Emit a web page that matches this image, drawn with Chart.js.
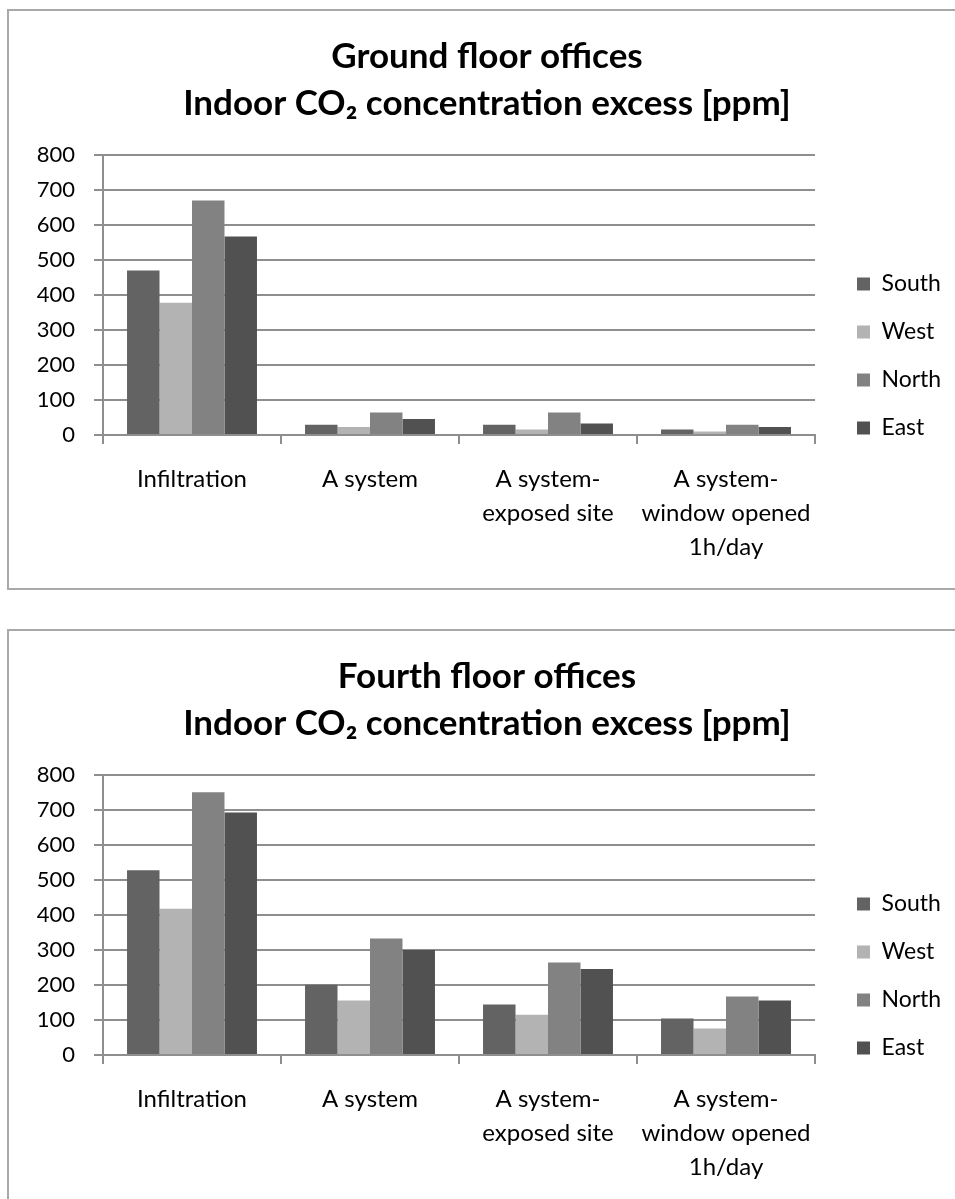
<!DOCTYPE html>
<html>
<head>
<meta charset="utf-8">
<script src="https://cdn.jsdelivr.net/npm/chart.js@4.4.1/dist/chart.umd.min.js"></script>
<style>
  html, body { margin: 0; padding: 0; background: #fff; overflow: hidden; width: 955px; height: 1199px; }
  .box { position: absolute; left: 7px; width: 960px; height: 577px; border: 2px solid #a9a9a9; box-sizing: content-box; }
  #box1 { top: 9px; }
  #box2 { top: 629px; }
  canvas { position: absolute; left: 0; top: 0; }
</style>
</head>
<body>
<div class="box" id="box1"><canvas id="c1" width="946" height="576"></canvas></div>
<div class="box" id="box2"><canvas id="c2" width="946" height="576"></canvas></div>
<script>
// ---- data ----
const categories = [
  "Infiltration",
  "A system",
  ["A system-", "exposed site"],
  ["A system-", "window opened", "1h/day"]
];
const seriesNames = ["South", "West", "North", "East"];
const seriesColors = ["#636363", "#b3b3b3", "#828282", "#515151"];

const groundSouth = [470, 29, 29, 16];
const groundWest  = [378, 23, 16, 10];
const groundNorth = [670, 64, 64, 29];
const groundEast  = [567, 46, 33, 23];

const fourthSouth = [528, 201, 144, 104];
const fourthWest  = [418, 156, 115, 76];
const fourthNorth = [751, 333, 264, 167];
const fourthEast  = [693, 300, 246, 156];

const yTicksMin = 0, yTicksMax = 800, yTicksStep = 100;

const title1 = ["Ground floor offices", "Indoor CO\u2082 concentration excess [ppm]"];
const title2 = ["Fourth floor offices", "Indoor CO\u2082 concentration excess [ppm]"];

// ---- layout ----
const FONT = "Lato, 'Open Sans', 'DejaVu Sans', sans-serif";
const W = 946, H = 576;
const areaLeft = 94, areaRight = 806, areaTop = 144, areaBottom = 424;
const legendFont = 23, legendPad = 25, legendBoxW = 13, legendBoxH = 13;
const legendBoxX = 848;

// measure legend text width to place the legend
const mctx = document.createElement('canvas').getContext('2d');
mctx.font = "normal " + legendFont + "px " + FONT;
const maxText = Math.max(...seriesNames.map(s => mctx.measureText(s).width));
const legendW = legendPad + legendBoxW + legendFont / 2 + maxText + 10;
const legendLeft = legendBoxX - legendPad;
const padR = W - legendLeft - legendW;
const padL = 10 + padR;
const gapW = legendLeft - areaRight;

const gridColor = "#8e8e8e";

function makeChart(id, titleLines, vals) {
  const datasets = seriesNames.map((n, i) => ({
    label: n,
    data: vals[i],
    backgroundColor: seriesColors[i],
    borderWidth: 0,
    categoryPercentage: 0.73,
    barPercentage: 1.0
  }));
  return new Chart(document.getElementById(id), {
    type: 'bar',
    data: { labels: categories, datasets },
    options: {
      responsive: false,
      animation: false,
      devicePixelRatio: 1,
      layout: { padding: { left: padL, right: padR, top: 0, bottom: 0 } },
      plugins: {
        tooltip: { enabled: false },
        title: {
          display: true,
          text: titleLines,
          color: "#000",
          font: { family: FONT, size: 35, weight: 'bold', lineHeight: '47px' },
          padding: { top: 22.5, bottom: 27.5 }
        },
        legend: {
          position: 'right',
          align: 'center',
          title: { display: true, text: '', font: { size: 10, lineHeight: 1.2 }, padding: { top: 102, bottom: 0 } },
          labels: {
            boxWidth: legendBoxW,
            boxHeight: legendBoxH,
            padding: legendPad,
            color: "#000",
            font: { family: FONT, size: legendFont }
          }
        }
      },
      scales: {
        x: {
          grid: { display: true, drawOnChartArea: false, drawTicks: true, tickLength: 9, offset: true, color: gridColor, lineWidth: 2 },
          border: { display: true, color: gridColor, width: 2 },
          ticks: { color: "#000", autoSkip: false, maxRotation: 0, minRotation: 0, padding: 18,
                   font: { family: FONT, size: 24, lineHeight: '34px' } },
          afterFit: s => { s.height = H - areaBottom; }
        },
        y: {
          min: yTicksMin, max: yTicksMax,
          grid: { display: true, drawTicks: true, tickLength: 9, color: gridColor, lineWidth: 2 },
          border: { display: true, color: gridColor, width: 2 },
          ticks: { stepSize: yTicksStep, color: "#000", padding: 19, font: { family: FONT, size: 22 } },
          afterFit: s => { s.width = areaLeft - padL; }
        },
        gap: {
          type: 'linear', position: 'right', display: true,
          grid: { display: false }, border: { display: false }, ticks: { display: false },
          afterFit: s => { s.width = gapW; }
        }
      }
    }
  });
}

makeChart('c1', title1, [groundSouth, groundWest, groundNorth, groundEast]);
makeChart('c2', title2, [fourthSouth, fourthWest, fourthNorth, fourthEast]);
</script>
</body>
</html>
